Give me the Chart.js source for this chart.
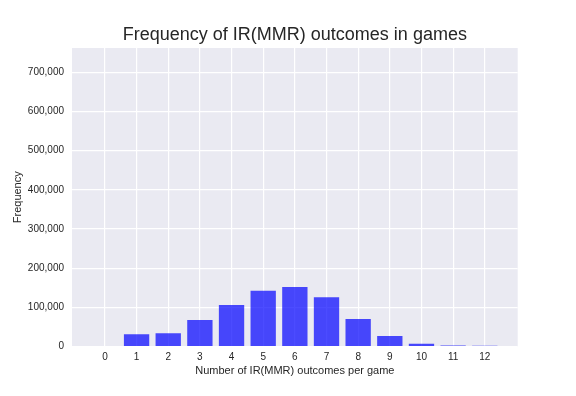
<!DOCTYPE html>
<html>
<head>
<meta charset="utf-8">
<script src="https://cdn.jsdelivr.net/npm/chart.js@4/dist/chart.umd.min.js"></script>
<style>
  html, body { margin: 0; padding: 0; background: #ffffff; }
  #wrap { width: 576px; height: 396px; position: relative; }
</style>
</head>
<body>
<div id="wrap"><canvas id="c" width="576" height="396"></canvas></div>
<script>
const outcomes = [0, 1, 2, 3, 4, 5, 6, 7, 8, 9, 10, 11, 12];
const frequencies = [0, 31500, 34000, 67500, 106000, 142000, 152000, 126000, 70000, 26500, 6800, 2500, 2000];
const yTicks = [0, 100000, 200000, 300000, 400000, 500000, 600000, 700000];
const titleText = 'Frequency of IR(MMR) outcomes in games';
const xLabel = 'Number of IR(MMR) outcomes per game';
const yLabel = 'Frequency';

const FONT = "'Liberation Sans', Arial, sans-serif";

const bgPlugin = {
  id: 'plotBg',
  beforeDraw(chart) {
    const a = chart.chartArea;
    const ctx = chart.ctx;
    ctx.save();
    ctx.fillStyle = '#EAEAF2';
    ctx.fillRect(a.left, a.top, a.right - a.left, a.bottom - a.top);
    ctx.restore();
  }
};

const titlePlugin = {
  id: 'plotTitle',
  afterDraw(chart) {
    const a = chart.chartArea;
    const ctx = chart.ctx;
    ctx.save();
    ctx.fillStyle = '#262626';
    ctx.font = '18px ' + FONT;
    ctx.textAlign = 'center';
    ctx.textBaseline = 'middle';
    ctx.fillText(titleText, (a.left + a.right) / 2, 35);
    ctx.restore();
  }
};

new Chart(document.getElementById('c'), {
  type: 'bar',
  data: {
    datasets: [{
      data: outcomes.map((x, i) => ({ x: x, y: frequencies[i] })),
      backgroundColor: 'rgba(0,0,255,0.7)',
      borderWidth: 0,
      barPercentage: 0.8,
      categoryPercentage: 1.0
    }]
  },
  options: {
    responsive: false,
    animation: false,
    devicePixelRatio: 1,
    layout: { padding: { left: 0, right: 58.3, top: 48, bottom: 0 } },
    plugins: {
      legend: { display: false },
      tooltip: { enabled: false },
      title: { display: false }
    },
    scales: {
      x: {
        type: 'linear',
        min: -1.04,
        max: 13.04,
        offset: false,
        ticks: {
          stepSize: 1,
          includeBounds: false,
          color: '#262626',
          font: { family: FONT, size: 10 },
          padding: 5,
          maxRotation: 0,
          autoSkip: false
        },
        afterBuildTicks(scale) {
          scale.ticks = outcomes.map(v => ({ value: v }));
        },
        afterFit(scale) { scale.height = 49.5; },
        grid: { color: '#ffffff', lineWidth: 1.2, drawTicks: false, offset: false },
        border: { display: false },
        title: {
          display: true,
          text: xLabel,
          color: '#262626',
          font: { family: FONT, size: 11 },
          padding: { top: 0, bottom: 18 }
        }
      },
      y: {
        min: 0,
        max: 762000,
        afterBuildTicks(scale) {
          scale.ticks = yTicks.map(v => ({ value: v }));
        },
        afterFit(scale) { scale.width = 72; },
        ticks: {
          color: '#262626',
          font: { family: FONT, size: 10 },
          padding: 8,
          callback: v => v.toLocaleString('en-US')
        },
        grid: { color: '#ffffff', lineWidth: 1.2, drawTicks: false },
        border: { display: false },
        title: {
          display: true,
          text: yLabel,
          color: '#262626',
          font: { family: FONT, size: 11 },
          padding: { top: 11.5, bottom: 0 }
        }
      }
    }
  },
  plugins: [bgPlugin, titlePlugin]
});
</script>
</body>
</html>
